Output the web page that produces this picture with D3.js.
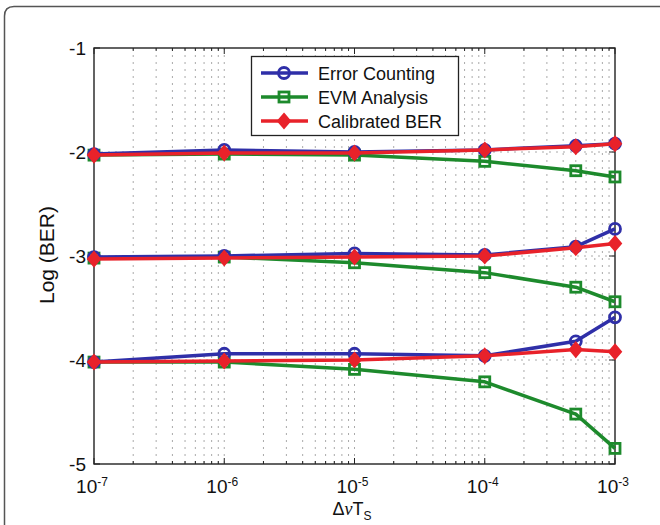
<!DOCTYPE html>
<html><head><meta charset="utf-8">
<script src="https://cdn.jsdelivr.net/npm/d3@7"></script>
<style>body{margin:0;background:#fff}svg{display:block}text{font-family:"Liberation Sans",Arial,sans-serif}</style>
</head><body>
<svg id="c" width="660" height="525"></svg>
<script>
const xValues = [1e-7, 1e-6, 1e-5, 1e-4, 5e-4, 1e-3];
const seriesNames = ["Error Counting", "EVM Analysis", "Calibrated BER"];
const colors = ["#2f2fa8", "#1d8a2c", "#e8222a"];
const markers = ["circle", "square", "diamond"];
// three groups (approx -2, -3, -4) for each series
const errorCounting = [
  [-2.02, -1.98, -2.00, -1.98, -1.94, -1.92],
  [-3.01, -3.00, -2.975, -2.99, -2.91, -2.74],
  [-4.02, -3.94, -3.94, -3.96, -3.82, -3.59]
];
const evmAnalysis = [
  [-2.03, -2.02, -2.03, -2.09, -2.18, -2.24],
  [-3.02, -3.01, -3.065, -3.16, -3.30, -3.44],
  [-4.02, -4.02, -4.09, -4.21, -4.52, -4.85]
];
const calibratedBER = [
  [-2.03, -2.01, -2.01, -1.98, -1.95, -1.92],
  [-3.03, -3.02, -3.01, -3.00, -2.92, -2.88],
  [-4.02, -4.01, -4.00, -3.96, -3.90, -3.92]
];
const yTicks = [-1, -2, -3, -4, -5];
const xTickExps = [-7, -6, -5, -4, -3];

const svg = d3.select("#c");
const L = 94, R = 615, T = 48, B = 464;
const x = d3.scaleLog().domain([1e-7, 1e-3]).range([L, R]);
const y = d3.scaleLinear().domain([-5, -1]).range([B, T]);

// outer frame
svg.append("path").attr("d", "M4.5,530 L4.5,16 Q4.5,6.5 14,6.5 L670,6.5")
  .attr("fill", "none").attr("stroke", "#555").attr("stroke-width", 1.5);

// grid
const minor = [];
for (let e = -7; e < -3; e++) for (let m = 1; m <= 9; m++) minor.push(m * Math.pow(10, e));
minor.push(1e-3);
const g = svg.append("g");
g.selectAll("line.vg").data(minor.slice(1, -1)).join("line")
  .attr("x1", d => x(d)).attr("x2", d => x(d)).attr("y1", T).attr("y2", B)
  .attr("stroke", "#aaa").attr("stroke-width", 1).attr("stroke-dasharray", "2,5");
g.selectAll("line.hg").data(yTicks.slice(1, -1)).join("line")
  .attr("x1", L).attr("x2", R).attr("y1", d => y(d)).attr("y2", d => y(d))
  .attr("stroke", "#aaa").attr("stroke-width", 1).attr("stroke-dasharray", "2,5");

// axes box
svg.append("rect").attr("x", L).attr("y", T).attr("width", R - L).attr("height", B - T)
  .attr("fill", "none").attr("stroke", "#222").attr("stroke-width", 1.4);

// ticks (inward)
const tk = svg.append("g").attr("stroke", "#222").attr("stroke-width", 1);
minor.forEach(v => {
  const isMajor = Math.abs(Math.log10(v) - Math.round(Math.log10(v))) < 1e-9;
  const len = isMajor ? 6 : 3;
  tk.append("line").attr("x1", x(v)).attr("x2", x(v)).attr("y1", B).attr("y2", B - len);
  tk.append("line").attr("x1", x(v)).attr("x2", x(v)).attr("y1", T).attr("y2", T + len);
});
yTicks.forEach(v => {
  tk.append("line").attr("x1", L).attr("x2", L + 6).attr("y1", y(v)).attr("y2", y(v));
  tk.append("line").attr("x1", R).attr("x2", R - 6).attr("y1", y(v)).attr("y2", y(v));
});

// y tick labels
svg.selectAll("text.yt").data(yTicks).join("text")
  .attr("x", L - 8).attr("y", d => y(d) + 7).attr("text-anchor", "end")
  .attr("font-size", 19).attr("fill", "#111").text(d => d);
// x tick labels
xTickExps.forEach(e => {
  const t = svg.append("text").attr("x", x(Math.pow(10, e)) - 2).attr("y", 493)
    .attr("text-anchor", "middle").attr("font-size", 19).attr("fill", "#111");
  t.append("tspan").text("10");
  t.append("tspan").attr("dy", -7).attr("font-size", 12).text(e);
});
// axis labels
const xl = svg.append("text").attr("x", 352).attr("y", 515).attr("text-anchor", "middle")
  .attr("font-size", 18).attr("fill", "#111");
xl.append("tspan").text("Δ");
xl.append("tspan").attr("font-family", "Liberation Serif, serif").attr("font-style", "italic").text("ν");
xl.append("tspan").text("T");
xl.append("tspan").attr("dy", 5).attr("font-size", 12).text("S");
svg.append("text").attr("transform", "translate(54,255) rotate(-90)").attr("text-anchor", "middle")
  .attr("font-size", 21).attr("fill", "#111").text("Log (BER)");

// data
const allSeries = [errorCounting, evmAnalysis, calibratedBER];
const drawOrder = [1, 0, 2];
const line = d3.line().x((d, i) => x(xValues[i])).y(d => y(d));
function marker(sel, type, cx, cy, color) {
  if (type === "circle") sel.append("circle").attr("cx", cx).attr("cy", cy).attr("r", 5.5)
    .attr("fill", "none").attr("stroke", color).attr("stroke-width", 2.8);
  else if (type === "square") sel.append("rect").attr("x", cx - 5).attr("y", cy - 5).attr("width", 10).attr("height", 10)
    .attr("fill", "none").attr("stroke", color).attr("stroke-width", 2.8);
  else sel.append("path").attr("d", `M${cx},${cy - 7}L${cx + 6},${cy}L${cx},${cy + 7}L${cx - 6},${cy}Z`)
    .attr("fill", color).attr("stroke", color).attr("stroke-width", 2);
}
const dg = svg.append("g");
drawOrder.forEach(s => {
  allSeries[s].forEach(grp => {
    dg.append("path").datum(grp).attr("d", line).attr("fill", "none")
      .attr("stroke", colors[s]).attr("stroke-width", 3.5).attr("stroke-linejoin", "round");
    grp.forEach((v, i) => marker(dg, markers[s], x(xValues[i]), y(v), colors[s]));
  });
});

// legend
const lg = svg.append("g");
lg.append("rect").attr("x", 251.5).attr("y", 56.5).attr("width", 207).attr("height", 79)
  .attr("fill", "#fff").attr("stroke", "#222").attr("stroke-width", 1.3);
seriesNames.forEach((n, i) => {
  const yy = 73 + i * 24;
  lg.append("line").attr("x1", 261).attr("x2", 308).attr("y1", yy).attr("y2", yy)
    .attr("stroke", colors[i]).attr("stroke-width", 3.5);
  marker(lg, markers[i], 284, yy, colors[i]);
  lg.append("text").attr("x", 318).attr("y", yy + 6.5).attr("font-size", 18).attr("fill", "#111").text(n);
});
</script>
</body></html>
